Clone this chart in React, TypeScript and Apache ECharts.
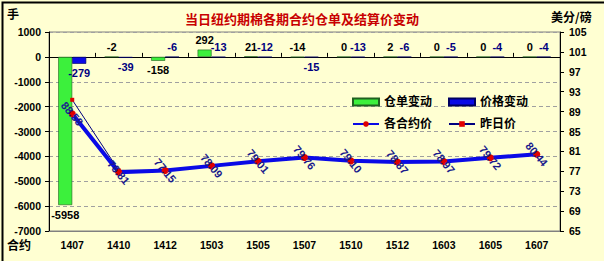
import React, { useEffect, useRef } from 'react';
import * as echarts from 'echarts';

const categories = ['1407', '1410', '1412', '1503', '1505', '1507', '1510', '1512', '1603', '1605', '1607'];
const warrantChange = [-5958, -2, -158, 292, 21, -14, 0, 2, 0, 0, 0];
const priceChange = [-279, -39, -6, -13, -12, -15, -13, -6, -5, -4, -4];
const settlePrice = [88.58, 76.81, 77.15, 78.09, 79.01, 79.76, 79.1, 78.87, 78.97, 79.72, 80.44];
const prevPrice = [91.37, 77.2, 77.21, 78.22, 79.13, 79.91, 79.23, 78.93, 79.02, 79.76, 80.48];

const leftMin = -7000;
const leftMax = 1000;
const leftStep = 1000;
const rightMin = 65;
const rightMax = 105;
const rightStep = 4;

const titleText = '当日纽约期棉各期合约仓单及结算价变动';
const leftUnit = '手';
const rightUnit = '美分/磅';
const xName = '合约';

const FONT = '"Liberation Sans", "Noto Sans CJK SC", sans-serif';

export default function App() {
  const ref = useRef<HTMLDivElement>(null);
  useEffect(() => {
    if (!ref.current) return;
    const chart = echarts.init(ref.current, undefined, { renderer: 'svg' });
    const barLabel = (color: string) => ({
      show: true,
      distance: 4,
      color,
      fontSize: 11,
      fontWeight: 'bold' as const,
      fontFamily: FONT,
    });
    const option: any = {
      animation: false,
      backgroundColor: '#FFFFD2',
      textStyle: { fontFamily: FONT },
      title: {
        text: titleText,
        left: 'center',
        top: 8,
        textStyle: { color: '#C80000', fontSize: 13, fontWeight: 'bold', fontFamily: FONT },
      },
      legend: [
        {
          left: 347,
          top: 91,
          itemWidth: 26,
          itemHeight: 7,
          itemGap: 16,
          textStyle: { fontSize: 12, fontWeight: 'bold', color: '#000', fontFamily: FONT },
          data: [
            { name: '仓单变动', icon: 'rect' },
            { name: '价格变动', icon: 'rect' },
          ],
        },
        {
          left: 347,
          top: 113,
          itemWidth: 26,
          itemHeight: 7,
          itemGap: 16,
          textStyle: { fontSize: 12, fontWeight: 'bold', color: '#000', fontFamily: FONT },
          data: ['各合约价', '昨日价'],
        },
      ],
      grid: {
        left: 49,
        right: 44,
        top: 32,
        bottom: 30,
        show: true,
        borderColor: '#808080',
        borderWidth: 1,
      },
      xAxis: [
        {
          type: 'category',
          data: categories,
          position: 'bottom',
          axisLine: { onZero: false, show: true, lineStyle: { color: '#808080' } },
          axisTick: { show: false },
          axisLabel: { color: '#000', fontSize: 10.5, fontWeight: 'bold', margin: 9, fontFamily: FONT },
          splitLine: { show: false },
        },
        {
          type: 'category',
          data: categories,
          position: 'bottom',
          axisLine: { onZero: true, onZeroAxisIndex: 0, lineStyle: { color: '#000', width: 1 } },
          axisTick: { show: true, inside: true, length: 4, lineStyle: { color: '#000' } },
          axisLabel: { show: false },
          splitLine: { show: false },
        },
      ],
      yAxis: [
        {
          type: 'value',
          min: leftMin,
          max: leftMax,
          interval: leftStep,
          position: 'left',
          axisLine: { show: true, lineStyle: { color: '#000' } },
          axisTick: { show: true, length: 4, lineStyle: { color: '#000' } },
          axisLabel: {
            color: '#000',
            fontSize: 10.5,
            fontWeight: 'bold',
            margin: 8,
            fontFamily: FONT,
            formatter: (v: number) => String(v),
          },
          splitLine: { show: true, lineStyle: { color: '#A0A0A0', type: [4, 3] } },
        },
        {
          type: 'value',
          min: rightMin,
          max: rightMax,
          interval: rightStep,
          position: 'right',
          axisLine: { show: true, lineStyle: { color: '#000' } },
          axisTick: { show: true, length: 4, lineStyle: { color: '#000' } },
          axisLabel: {
            color: '#000',
            fontSize: 10.5,
            fontWeight: 'bold',
            margin: 9,
            fontFamily: FONT,
            formatter: (v: number) => String(v),
          },
          splitLine: { show: false },
        },
      ],
      series: [
        {
          name: '仓单变动',
          type: 'bar',
          xAxisIndex: 0,
          yAxisIndex: 0,
          barWidth: 14,
          barGap: '0%',
          itemStyle: { color: '#3CF03C', borderColor: '#206020', borderWidth: 0.6 },
          data: warrantChange.map((v) => ({
            value: v,
            label: { ...barLabel('#000'), position: v <= -15 ? 'bottom' : 'top' },
          })),
        },
        {
          name: '价格变动',
          type: 'bar',
          xAxisIndex: 0,
          yAxisIndex: 0,
          barWidth: 14,
          barGap: '0%',
          itemStyle: { color: '#0A0AE6', borderColor: '#000060', borderWidth: 0.6 },
          data: priceChange.map((v) => ({
            value: v,
            label: { ...barLabel('#000080'), position: v <= -15 ? 'bottom' : 'top' },
          })),
        },
        {
          name: '昨日价',
          type: 'line',
          xAxisIndex: 0,
          yAxisIndex: 1,
          data: prevPrice,
          symbol: 'rect',
          symbolSize: 4,
          itemStyle: { color: '#E00000' },
          lineStyle: { color: '#000080', width: 1 },
          z: 3,
        },
        {
          name: '各合约价',
          type: 'line',
          xAxisIndex: 0,
          yAxisIndex: 1,
          data: settlePrice,
          symbol: 'circle',
          symbolSize: 7,
          itemStyle: { color: '#E00000' },
          lineStyle: { color: '#0A0AE6', width: 4 },
          label: {
            show: true,
            position: 'inside',
            rotate: -50,
            color: '#1A1A8C',
            fontSize: 11,
            fontWeight: 'bold',
            fontFamily: FONT,
            formatter: (p: any) => Number(p.value).toFixed(2),
          },
          z: 4,
        },
      ],
      graphic: [
        {
          type: 'text',
          left: 7,
          top: 7,
          style: { text: leftUnit, fill: '#000', font: 'bold 12px "Noto Sans CJK SC"' },
        },
        {
          type: 'text',
          left: 551,
          top: 10,
          style: { text: rightUnit, fill: '#000', font: 'bold 12px "Noto Sans CJK SC"' },
        },
        {
          type: 'text',
          left: 7,
          top: 238,
          style: { text: xName, fill: '#000', font: 'bold 12px "Noto Sans CJK SC"' },
        },
        {
          type: 'rect',
          left: 0,
          top: 0,
          shape: { x: 0, y: 0, width: 603, height: 260 },
          style: { fill: 'none', stroke: '#000', lineWidth: 2 },
          silent: true,
        },
      ],
    };
    chart.setOption(option);
    return () => chart.dispose();
  }, []);
  return (
    <div
      ref={ref}
      style={{ position: 'fixed', left: 0, top: 0, width: 604, height: 261 }}
    />
  );
}
